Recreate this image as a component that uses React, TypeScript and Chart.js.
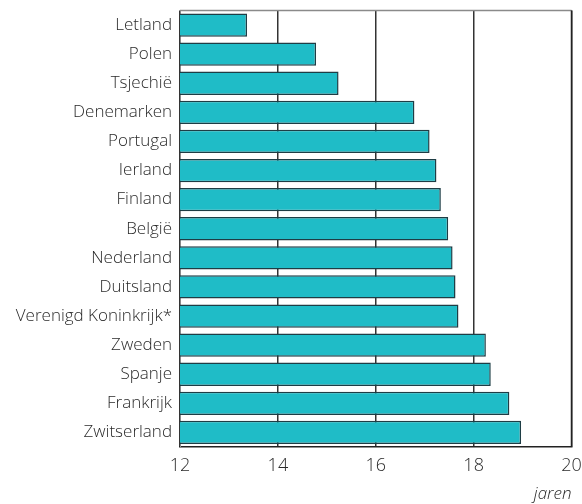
import React, { useEffect, useRef } from "react";
import { Chart, registerables } from "chart.js";

Chart.register(...registerables);

const categories = [
  "Letland",
  "Polen",
  "Tsjechië",
  "Denemarken",
  "Portugal",
  "Ierland",
  "Finland",
  "België",
  "Nederland",
  "Duitsland",
  "Verenigd Koninkrijk*",
  "Zweden",
  "Spanje",
  "Frankrijk",
  "Zwitserland",
];

const values = [
  13.37, 14.78, 15.24, 16.79, 17.1, 17.24, 17.33, 17.48, 17.57, 17.63, 17.69,
  18.25, 18.35, 18.73, 18.97,
];

const xMin = 12;
const xMax = 20;
const xStep = 2;
const unitLabel = "jaren";
const sourceLabel = "Bron: Eurostat";

const FONT = "'Open Sans', 'Noto Sans', sans-serif";

const frameBox = {
  id: "frameBox",
  beforeDatasetsDraw(chart: any) {
    const { ctx, chartArea } = chart;
    ctx.save();
    ctx.strokeStyle = "#8a8a8a";
    ctx.lineWidth = 1.5;
    ctx.beginPath();
    ctx.moveTo(chartArea.left, chartArea.top);
    ctx.lineTo(chartArea.right, chartArea.top);
    ctx.stroke();
    ctx.strokeStyle = "#222";
    ctx.beginPath();
    ctx.moveTo(chartArea.right, chartArea.top);
    ctx.lineTo(chartArea.right, chartArea.bottom);
    ctx.stroke();
    ctx.restore();
  },
};

export default function App() {
  const ref = useRef<HTMLCanvasElement | null>(null);

  useEffect(() => {
    if (!ref.current) return;
    const chart = new Chart(ref.current, {
      type: "bar",
      data: {
        labels: categories,
        datasets: [
          {
            data: values,
            backgroundColor: "#1fbcc7",
            borderColor: "#1e3d45",
            borderWidth: 1.5,
            borderSkipped: false,
            barPercentage: 0.8,
            categoryPercentage: 1,
          },
        ],
      },
      options: {
        indexAxis: "y",
        animation: false,
        responsive: true,
        maintainAspectRatio: false,
        layout: { padding: { top: 10.5, right: 10.5, left: 0, bottom: 0 } },
        plugins: {
          legend: { display: false },
          tooltip: { enabled: false },
        },
        scales: {
          x: {
            min: xMin,
            max: xMax,
            ticks: {
              stepSize: xStep,
              color: "#2a2a2a",
              font: { family: FONT, size: 18, weight: "300" },
              padding: 8,
            },
            grid: {
              color: "#333",
              lineWidth: 1.5,
              drawTicks: false,
            },
            border: { display: true, color: "#222", width: 1.5 },
            title: {
              display: true,
              text: unitLabel,
              align: "end",
              color: "#2a2a2a",
              font: { family: FONT, size: 17, style: "italic", weight: "300" },
              padding: { top: 2, bottom: 0 },
            },
            afterFit(scale: any) {
              scale.height = 57;
              scale.paddingLeft = 0;
              scale.paddingRight = 0;
            },
          },
          y: {
            grid: { display: false, drawTicks: false },
            border: { display: true, color: "#8a8a8a", width: 1 },
            ticks: {
              color: "#2a2a2a",
              font: { family: FONT, size: 17, weight: "300" },
              padding: 8,
              autoSkip: false,
            },
            afterFit(scale: any) {
              scale.width = 180;
              scale.paddingTop = 0;
              scale.paddingBottom = 0;
            },
          },
        },
      },
      plugins: [frameBox],
    });
    return () => chart.destroy();
  }, []);

  return (
    <div
      style={{
        position: "absolute",
        left: 0,
        top: 0,
        width: 582,
        height: 504,
        overflow: "hidden",
        background: "#fff",
      }}
    >
      <canvas ref={ref} />
      <div
        style={{
          position: "absolute",
          left: 8,
          top: 499,
          fontFamily: FONT,
          fontSize: 14,
          color: "#444",
          whiteSpace: "nowrap",
        }}
      >
        {sourceLabel}
      </div>
    </div>
  );
}
